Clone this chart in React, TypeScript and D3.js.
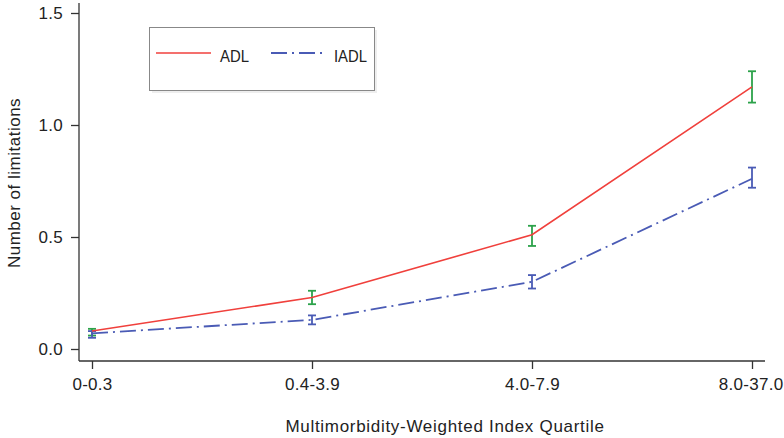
import { useEffect, useRef } from "react";
import * as d3 from "d3";

const quartiles = ["0-0.3", "0.4-3.9", "4.0-7.9", "8.0-37.0"];
const adl = [0.08, 0.23, 0.51, 1.17];
const adlLow = [0.06, 0.2, 0.46, 1.1];
const adlHigh = [0.09, 0.26, 0.55, 1.24];
const iadl = [0.07, 0.13, 0.3, 0.76];
const iadlLow = [0.05, 0.11, 0.27, 0.72];
const iadlHigh = [0.08, 0.15, 0.33, 0.81];
const yTicks = [0, 0.5, 1, 1.5];

const W = 784, H = 438;

export default function App() {
  const svgRef = useRef<SVGSVGElement>(null);
  useEffect(() => {
    const svg = d3.select(svgRef.current);
    svg.selectAll("*").remove();
    const font = "'Liberation Sans', Arial, sans-serif";

    const x = d3.scalePoint().domain(quartiles).range([92, 752]);
    const y = d3.scaleLinear().domain([0, 1.5]).range([349, 13]);

    // axes
    const xAxis = svg.append("g").attr("transform", "translate(0,361)")
      .call(d3.axisBottom(x).tickSize(8).tickPadding(9));
    xAxis.select(".domain").attr("d", "M79,0H765");
    const yAxis = svg.append("g").attr("transform", "translate(79,0)")
      .call(d3.axisLeft(y).tickValues(yTicks).tickFormat(d3.format(".1f")).tickSize(8).tickPadding(8));
    yAxis.select(".domain").attr("d", "M0,3V361");
    svg.selectAll(".tick text").attr("font-family", font).attr("font-size", 17)
      .attr("letter-spacing", 0.3).attr("fill", "#222");
    // keep the last label inside the frame
    xAxis.selectAll<SVGTextElement, string>(".tick text")
      .filter(d => d === quartiles[quartiles.length - 1]).attr("text-anchor", "end").attr("dx", 31);
    svg.selectAll(".tick line, .domain").attr("stroke", "#333").attr("stroke-width", 1.3);

    svg.append("text").attr("x", 445).attr("y", 432).attr("text-anchor", "middle")
      .attr("font-family", font).attr("font-size", 17).attr("letter-spacing", 0.7).attr("fill", "#222")
      .text("Multimorbidity-Weighted Index Quartile");
    svg.append("text").attr("transform", "translate(20,183) rotate(-90)").attr("text-anchor", "middle")
      .attr("font-family", font).attr("font-size", 17).attr("letter-spacing", 0.5).attr("fill", "#222")
      .text("Number of limitations");

    const line = d3.line<number>().x((_, i) => x(quartiles[i])!).y(d => y(d));

    const errs = (lo: number[], hi: number[], color: string) => {
      const g = svg.append("g").attr("stroke", color).attr("stroke-width", 1.8);
      quartiles.forEach((q, i) => {
        const cx = x(q)!;
        g.append("line").attr("x1", cx).attr("x2", cx).attr("y1", y(lo[i])).attr("y2", y(hi[i]));
        g.append("line").attr("x1", cx - 4).attr("x2", cx + 4).attr("y1", y(lo[i])).attr("y2", y(lo[i]));
        g.append("line").attr("x1", cx - 4).attr("x2", cx + 4).attr("y1", y(hi[i])).attr("y2", y(hi[i]));
      });
    };

    errs(adlLow, adlHigh, "#2ca24a");
    errs(iadlLow, iadlHigh, "#4a5bb5");

    svg.append("path").datum(adl).attr("d", line).attr("fill", "none")
      .attr("stroke", "#f0403c").attr("stroke-width", 1.6);
    svg.append("path").datum(iadl).attr("d", line).attr("fill", "none")
      .attr("stroke", "#4a5bb5").attr("stroke-width", 1.8).attr("stroke-dasharray", "16,5,2,5");

    // legend
    const lg = svg.append("g");
    lg.append("rect").attr("x", 152).attr("y", 30).attr("width", 225).attr("height", 63).attr("fill", "#eee");
    lg.append("rect").attr("x", 149.5).attr("y", 27.5).attr("width", 225).attr("height", 63)
      .attr("fill", "#fff").attr("stroke", "#888").attr("stroke-width", 1);
    lg.append("line").attr("x1", 156).attr("x2", 211).attr("y1", 53).attr("y2", 53)
      .attr("stroke", "#f0403c").attr("stroke-width", 1.6);
    lg.append("text").attr("x", 220).attr("y", 62).attr("font-family", font).attr("font-size", 17)
      .attr("textLength", 29).attr("lengthAdjust", "spacingAndGlyphs").attr("fill", "#222").text("ADL");
    lg.append("line").attr("x1", 271).attr("x2", 327).attr("y1", 53).attr("y2", 53)
      .attr("stroke", "#4a5bb5").attr("stroke-width", 1.8).attr("stroke-dasharray", "16,5,2,5");
    lg.append("text").attr("x", 334).attr("y", 62).attr("font-family", font).attr("font-size", 17)
      .attr("textLength", 33).attr("lengthAdjust", "spacingAndGlyphs").attr("fill", "#222").text("IADL");
  }, []);

  return (
    <svg ref={svgRef} width={W} height={H}
      style={{ position: "absolute", left: 0, top: 0, background: "#fff" }} />
  );
}
